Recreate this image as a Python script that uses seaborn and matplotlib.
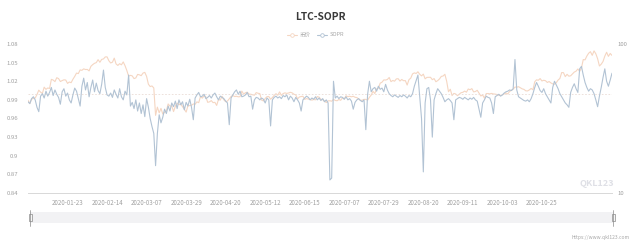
import numpy as np
import pandas as pd
import matplotlib
matplotlib.use("Agg")
import matplotlib.pyplot as plt
import seaborn as sns
from matplotlib.patches import Rectangle

# ---------------- data ----------------
dates = (list(pd.date_range("2020-01-01", "2020-05-19").strftime("%Y-%m-%d"))
         + list(pd.date_range("2020-06-01", "2020-12-03").strftime("%Y-%m-%d")))

price_jan = [41.9, 39.8, 42.7, 43.1, 43.4, 45.8, 49.0, 47.5, 46.6, 51.3, 49.6, 50.7, 50.3, 57.9, 57.3, 55.9,
             59.4, 58.6, 56.0, 56.8, 57.5, 57.3, 54.4, 55.6, 55.0, 58.0, 60.6, 63.8, 63.3, 67.0, 66.6]
price_feb = [68.1, 67.4, 67.5, 66.0, 70.8, 72.7, 74.2, 75.0, 78.5, 75.4, 78.8, 79.4, 81.9, 82.0, 77.2,
             74.6, 75.5, 80.4, 73.5, 71.8, 73.8, 72.5, 75.8, 71.5, 66.4, 60.8, 61.6, 61.1, 58.6]
price_mar = [59.2, 62.5, 62.1, 61.3, 63.8, 64.5, 60.6, 53.7, 51.8, 52.3, 50.7, 33.2, 37.7, 34.5, 37.0, 33.9,
             34.8, 35.6, 39.6, 38.3, 38.4, 35.2, 38.2, 40.1, 39.1, 39.6, 37.9, 36.5, 34.9, 38.5, 38.6]
price_apr = [38.8, 39.6, 39.4, 40.9, 40.4, 44.4, 43.3, 44.9, 44.1, 40.6, 40.9, 41.7, 40.4, 40.6, 38.7,
             42.5, 42.0, 44.6, 42.2, 41.0, 41.4, 42.9, 44.4, 45.1, 44.4, 44.6, 44.2, 44.3, 48.3, 46.1]
price_may = [47.1, 47.5, 46.1, 46.0, 45.6, 45.3, 47.2, 46.7, 46.5, 42.0, 41.5, 43.1, 44.3, 44.4, 42.6,
             43.7, 45.2, 46.4, 45.3]
price_jun = [47.7, 45.2, 46.5, 47.0, 46.6, 46.9, 47.4, 47.0, 46.0, 45.6, 42.8, 44.1, 44.4, 44.6, 42.5,
             43.0, 42.7, 42.4, 42.0, 42.4, 42.2, 44.4, 44.0, 42.5, 42.3, 41.3, 40.5, 41.5, 41.6, 41.3]
price_jul = [42.5, 41.8, 41.6, 42.4, 41.9, 43.5, 42.8, 44.9, 44.3, 44.6, 44.2, 44.6, 43.9, 43.7, 42.8, 41.8,
             42.0, 42.5, 42.5, 42.0, 43.9, 45.4, 48.1, 46.5, 50.0, 50.5, 54.6, 55.4, 57.4, 57.3, 57.8]
price_aug = [59.6, 55.9, 56.9, 56.3, 58.3, 58.5, 56.4, 57.8, 56.7, 56.8, 53.0, 57.6, 59.0, 63.0, 64.0, 63.4,
             65.1, 62.6, 61.1, 62.8, 58.4, 59.7, 59.7, 59.8, 57.6, 58.6, 55.8, 56.8, 58.3, 60.6, 61.0]
price_sep = [62.6, 56.2, 47.8, 49.7, 45.1, 46.6, 46.2, 45.0, 46.0, 47.1, 47.4, 48.3, 47.5, 49.9, 49.3,
             50.2, 47.7, 48.0, 48.9, 46.8, 44.8, 45.5, 43.3, 46.5, 46.5, 46.3, 46.6, 46.2, 46.1, 45.8]
price_oct = [45.3, 45.1, 45.6, 46.2, 46.9, 46.2, 48.0, 48.9, 49.7, 51.4, 51.3, 51.7, 50.8, 50.0, 49.6, 48.5,
             48.4, 49.2, 50.3, 49.3, 55.8, 57.5, 57.1, 58.6, 56.5, 57.1, 56.7, 55.2, 56.0, 54.8, 54.0]
price_nov = [53.7, 55.1, 57.3, 58.7, 64.3, 64.2, 60.4, 62.6, 60.8, 61.2, 63.0, 64.8, 65.7, 68.0, 65.5,
             69.0, 78.6, 78.3, 83.0, 86.7, 88.8, 83.9, 89.9, 86.0, 79.6, 71.2, 73.2, 76.3, 82.9, 88.0]
price_dec = [82.6, 86.4, 83.8]
price = (price_jan + price_feb + price_mar + price_apr + price_may + price_jun + price_jul
         + price_aug + price_sep + price_oct + price_nov + price_dec)

sopr = [
    0.987, 0.984, 0.992, 0.995, 0.990, 0.978, 0.971, 0.996, 1.000, 0.993,
    1.004, 0.996, 1.002, 1.010, 0.997, 1.006, 0.999, 0.994, 0.983, 1.003,
    1.008, 0.996, 1.001, 0.990, 0.985, 0.998, 1.009, 1.004, 0.992, 0.980,
    1.012, 1.025, 1.006, 1.018, 0.995, 1.010, 1.022, 1.003, 1.017, 1.005,
    1.000, 1.015, 1.038, 1.010, 0.998, 0.996, 1.001, 0.994, 1.006, 0.999,
    0.993, 1.008, 0.995, 0.990, 1.004, 0.998, 1.030, 0.980, 0.986, 0.976,
    0.990, 0.972, 0.985, 0.968, 0.982, 0.963, 0.992, 0.978, 0.960, 0.947,
    0.936, 0.884, 0.936, 0.966, 0.953, 0.962, 0.975, 0.968, 0.980, 0.972,
    0.985, 0.979, 0.988, 0.976, 0.990, 0.982, 0.987, 0.974, 0.986, 0.980,
    0.991, 0.978, 0.958, 0.993, 0.998, 1.002, 0.995, 0.996, 0.999, 0.992,
    0.994, 0.997, 0.993, 0.998, 1.001, 0.995, 0.990, 0.996, 0.994, 0.992,
    0.988, 0.985, 0.950, 0.993, 0.998, 1.003, 1.006, 0.999, 1.004, 0.995,
    0.996, 0.998, 1.002, 0.995, 0.996, 0.975, 0.990, 0.994, 0.993, 0.990,
    0.993, 0.991, 0.985, 0.993, 0.990, 0.948, 0.990, 0.994, 0.996, 0.993,
    0.995, 0.992, 0.997, 0.995, 0.998, 0.990, 0.996, 0.993, 0.987, 0.994,
    0.990, 0.985, 0.972, 0.990, 0.993, 0.996, 0.994, 0.990, 0.993, 0.991,
    0.995, 0.990, 0.993, 0.989, 0.992, 0.987, 0.990, 0.985, 0.861, 0.864,
    1.020, 0.993, 0.996, 0.992, 0.995, 0.994, 0.991, 0.995, 0.990, 0.992,
    0.988, 0.975, 0.986, 0.990, 0.992, 0.989, 0.987, 0.990, 0.942, 0.999,
    1.020, 1.003, 1.008, 1.010, 1.004, 1.012, 1.007, 1.009, 1.003, 1.015,
    1.006, 1.000, 0.997, 0.995, 0.998, 0.996, 0.994, 0.997, 0.995, 0.998,
    0.996, 0.993, 0.997, 0.995, 1.000, 1.012, 1.021, 1.030, 0.995, 0.960,
    0.874, 0.985, 1.008, 1.010, 0.990, 0.930, 0.990, 1.000, 1.008, 1.004,
    1.000, 0.994, 0.987, 0.990, 0.992, 0.989, 0.985, 0.958, 0.990, 0.992,
    0.994, 0.993, 0.991, 0.994, 0.992, 0.990, 0.993, 0.991, 0.994, 0.990,
    0.988, 0.975, 0.962, 0.985, 0.990, 0.996, 0.994, 0.993, 0.985, 0.968,
    0.995, 0.997, 0.999, 0.996, 0.998, 1.001, 1.003, 1.004, 1.006, 1.005,
    1.008, 1.055, 1.006, 0.995, 0.993, 0.991, 0.989, 0.988, 0.990, 0.987,
    0.992, 1.000, 1.010, 1.018, 1.012, 1.005, 1.002, 1.008, 1.000, 0.995,
    0.990, 0.985, 1.010, 1.020, 1.014, 1.008, 1.000, 0.995, 0.990, 0.985,
    0.982, 0.978, 1.002, 1.010, 1.016, 1.008, 1.002, 1.040, 1.044, 1.030,
    1.018, 1.010, 1.004, 1.008, 1.006, 1.000, 0.990, 0.979, 0.996, 1.010,
    1.026, 1.040, 1.020, 1.012, 1.022, 1.033,
]

left_ticks = [0.84, 0.87, 0.90, 0.93, 0.96, 0.99, 1.02, 1.05, 1.08]
left_labels = ["0.84", "0.87", "0.9", "0.93", "0.96", "0.99", "1.02", "1.05", "1.08"]
right_ticks = [10, 100]
series_names = ["币价", "SOPR"]
title = "LTC-SOPR"

# ---------------- style ----------------
sns.set_theme(style="white")
plt.rcParams["font.family"] = ["Noto Sans CJK SC", "DejaVu Sans"]

C_PRICE = "#f5d6c2"
C_SOPR = "#b2c3d4"
C_TICK = "#a0a0a0"

df = pd.DataFrame({"i": np.arange(len(dates)), "date": dates, "sopr": sopr, "price": price})

fig = plt.figure(figsize=(6.4, 2.44), dpi=100)
fig.patch.set_facecolor("white")
ax = fig.add_axes([28 / 640, 1 - 193 / 244, 584 / 640, 149 / 244])
ax2 = ax.twinx()

sns.lineplot(data=df, x="i", y="price", ax=ax2, color=C_PRICE, linewidth=0.8, zorder=2)
sns.lineplot(data=df, x="i", y="sopr", ax=ax, color=C_SOPR, linewidth=0.8, zorder=3)
ax.set_zorder(ax2.get_zorder() + 1)
ax.patch.set_visible(False)
ax.axhline(1.0, color="#eadcd6", linewidth=0.6, linestyle=(0, (2, 2)), zorder=1)

ax.set_xlim(0, len(dates) - 1)
ax.set_ylim(0.84, 1.08)
ax.set_yticks(left_ticks)
ax.set_yticklabels(left_labels)
ax2.set_yscale("log")
ax2.set_ylim(10, 100)
ax2.set_yticks(right_ticks)
ax2.set_yticklabels(["10", "100"])
ax2.yaxis.set_minor_locator(matplotlib.ticker.NullLocator())

xt = list(range(22, len(dates), 22))[:13]
ax.set_xticks(xt)
ax.set_xticklabels([dates[k] for k in xt])

for a in (ax, ax2):
    for s in a.spines.values():
        s.set_visible(False)
    a.set_xlabel("")
    a.set_ylabel("")
    a.grid(False)
ax.spines["bottom"].set_visible(True)
ax.spines["bottom"].set_color("#d8d8d8")
ax.spines["bottom"].set_linewidth(0.7)

ax.tick_params(axis="y", length=0, pad=7, labelsize=4.3, labelcolor=C_TICK)
ax.tick_params(axis="x", length=0, pad=4, labelsize=4.4, labelcolor=C_TICK)
ax2.tick_params(axis="y", length=0, pad=4, labelsize=4.3, labelcolor=C_TICK)

# title
fig.text(0.5, 1 - 17 / 244, title, ha="center", va="center", fontsize=7.4,
         fontweight="bold", color="#3a3a3a")

# legend
ly = 1 - 35 / 244
for xc, name, col in [(292, series_names[0], C_PRICE), (322, series_names[1], C_SOPR)]:
    fig.add_artist(plt.Line2D([(xc - 5) / 640, (xc + 5) / 640], [ly, ly], color=col, lw=0.8))
    fig.add_artist(plt.Line2D([xc / 640], [ly], marker="o", markersize=2.6, markerfacecolor="white",
                              markeredgecolor=col, markeredgewidth=0.6, linestyle="none"))
    fig.text((xc + 8) / 640, ly, name, ha="left", va="center", fontsize=4, color="#a8a8a8")

# watermark
fig.text(597 / 640, 1 - 184 / 244, "QKL123", ha="center", va="center", fontsize=6.5,
         color="#dfe0e6", fontweight="bold")

# data zoom slider
fig.add_artist(Rectangle((30 / 640, 1 - 223 / 244), 583 / 640, 11 / 244, transform=fig.transFigure,
                         facecolor="#f2f2f4", edgecolor="none"))
for hx in (30, 613):
    fig.add_artist(plt.Line2D([hx / 640, hx / 640], [1 - 226 / 244, 1 - 210 / 244], color="#8a8a8a", lw=0.5))
    fig.add_artist(Rectangle(((hx - 1.5) / 640, 1 - 221 / 244), 3 / 640, 7 / 244, transform=fig.transFigure,
                             facecolor="#f6f6f6", edgecolor="#8a8a8a", lw=0.5))

fig.text(630 / 640, 1 - 237 / 244, "https://www.qkl123.com", ha="right", va="center",
         fontsize=3.6, color="#a8a8a8")

fig.savefig("out.png", dpi=100, facecolor="white")
